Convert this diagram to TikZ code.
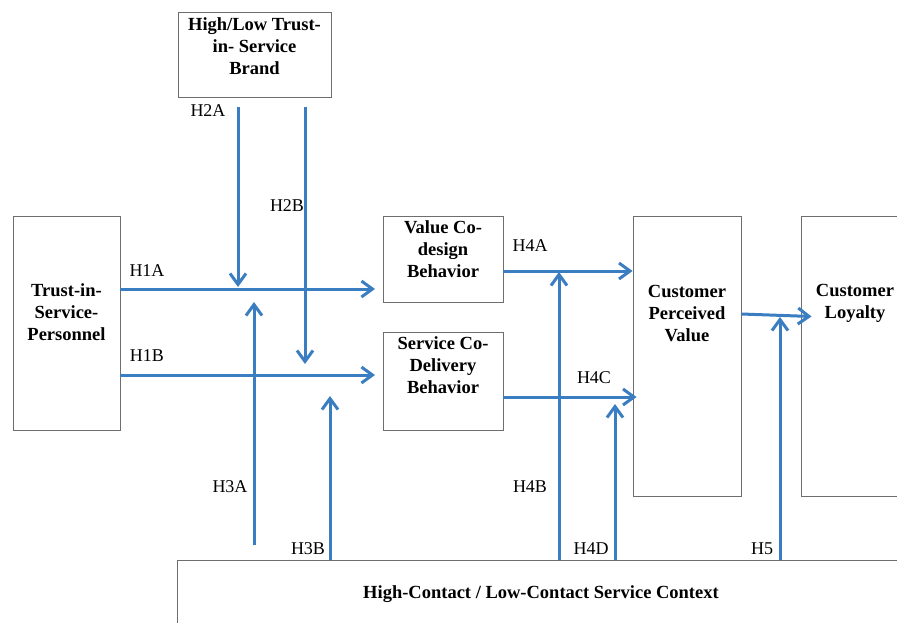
\documentclass[tikz,border=0pt]{standalone}
\usepackage{fontspec}
\setmainfont{Liberation Serif}
\usetikzlibrary{arrows.meta,calc}
\definecolor{hypblue}{RGB}{58,125,193}
\definecolor{boxgray}{RGB}{110,110,110}

\tikzset{
  box/.style={draw=boxgray, line width=0.9pt, inner sep=0pt},
  boxtext/.style={font=\fontsize{18.5}{22}\selectfont\bfseries, align=center, inner sep=0pt},
  hyp/.style={draw=hypblue, line width=3pt, -{Straight Barb[length=11pt,width=16pt]}},
  hlabel/.style={font=\fontsize{18}{20}\selectfont, inner sep=0pt},
}

\begin{document}
\begin{tikzpicture}[x=1pt,y=-1pt]
  \useasboundingbox (0,0) rectangle (897,622);
  \clip (0,0) rectangle (897,622);

  % constructs
  \node[box, minimum width=153pt, minimum height=85pt] (brand) at (254.5,54.5) {};
  \node[box, minimum width=107pt, minimum height=214pt] (tisp) at (66.5,323) {};
  \node[box, minimum width=120pt, minimum height=86pt] (vcd) at (443,259) {};
  \node[box, minimum width=120pt, minimum height=98pt] (scd) at (443,381) {};
  \node[box, minimum width=108pt, minimum height=280pt] (cpv) at (687,356) {};
  \node[box, minimum width=159pt, minimum height=280pt] (loy) at (880.5,356) {};
  \node[box, minimum width=783pt, minimum height=120pt] (ctx) at (568.5,620) {};

  \node[boxtext] (brandtxt) at (254.5,46.5) {High/Low Trust-\\in- Service\\Brand};
  \node[boxtext] (tisptxt) at (66.5,312) {Trust-in-\\Service-\\Personnel};
  \node[boxtext] (vcdtxt) at (443,249) {Value Co-\\design\\Behavior};
  \node[boxtext] (scdtxt) at (443,365) {Service Co-\\Delivery\\Behavior};
  \node[boxtext] (cpvtxt) at (687,314) {Customer\\Perceived\\Value};
  \node[boxtext] (loytxt) at (855,303) {Customer\\Loyalty};
  \node[boxtext] (ctxtxt) at (541,594) {High-Contact / Low-Contact Service Context};

  % arrow ends on the paths
  \coordinate (h1a) at (375,289);
  \coordinate (h1b) at (375,375);
  \coordinate (h2a) at (238,287);
  \coordinate (h2b) at (305,364);
  \coordinate (h3a) at (254,302);
  \coordinate (h3b) at (330,396);
  \coordinate (h4b) at (559,272);
  \coordinate (h4d) at (615,404);
  \coordinate (h5) at (780,317);

  % main paths
  \draw[hyp] (tisp.east |- h1a) -- (h1a);
  \draw[hyp] (tisp.east |- h1b) -- (h1b);
  \draw[hyp] (vcd.east |- 0,271) -- (cpv.west |- 0,271);
  \draw[hyp] (scd.east |- 0,397) -- ([xshift=4pt]cpv.west |- 0,397);
  \draw[hyp] (cpv.east |- 0,314) -- ([xshift=11pt]loy.west |- 0,316.5);

  % moderators
  \draw[hyp] ([yshift=-10pt]brand.south -| h2a) -- (h2a);
  \draw[hyp] ([yshift=-10pt]brand.south -| h2b) -- (h2b);
  \draw[hyp] (254,545) -- (h3a);
  \draw[hyp] (ctx.north -| h3b) -- (h3b);
  \draw[hyp] (ctx.north -| h4b) -- (h4b);
  \draw[hyp] (ctx.north -| h4d) -- (h4d);
  \draw[hyp] (ctx.north -| h5) -- (h5);

  % hypothesis labels
  \node[hlabel] (lh1a) at (147,271) {H1A};
  \node[hlabel] (lh1b) at (147,356) {H1B};
  \node[hlabel] (lh2a) at (208,111) {H2A};
  \node[hlabel] (lh2b) at (287,206) {H2B};
  \node[hlabel] (lh3a) at (230,487) {H3A};
  \node[hlabel] (lh3b) at (308,549) {H3B};
  \node[hlabel] (lh4a) at (530,246) {H4A};
  \node[hlabel] (lh4b) at (530,487) {H4B};
  \node[hlabel] (lh4c) at (594,378) {H4C};
  \node[hlabel] (lh4d) at (591,549) {H4D};
  \node[hlabel] (lh5) at (762,549) {H5};
\end{tikzpicture}
\end{document}
